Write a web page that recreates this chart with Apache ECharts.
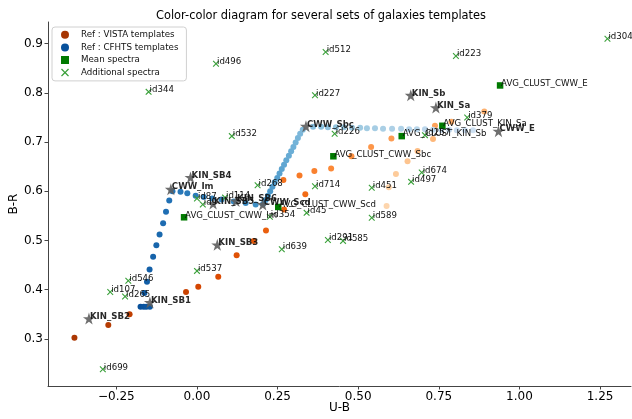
<!DOCTYPE html>
<html><head><meta charset="utf-8">
<script src="https://cdn.jsdelivr.net/npm/echarts@6/dist/echarts.min.js"></script>
<style>html,body{margin:0;padding:0;background:#fff}#c{width:632px;height:419px}</style>
</head><body><div id="c"></div>
<script>
// ---- data ----
const vistaU  = [-0.380,-0.275,-0.209,-0.034,0.004,0.066,0.123,0.176,0.214,0.270,0.336,0.268,0.318,0.364,0.416,0.479,0.540,0.603,0.738,0.789,0.891,0.732,0.684,0.653,0.617,0.595,0.588];
const vistaBR = [0.302,0.328,0.350,0.395,0.406,0.426,0.470,0.499,0.520,0.563,0.594,0.623,0.632,0.641,0.646,0.671,0.690,0.707,0.733,0.741,0.762,0.706,0.682,0.661,0.635,0.608,0.570];

const cfhtsU  = [-0.175,-0.165,-0.157,-0.146,-0.163,-0.155,-0.147,-0.136,-0.126,-0.116,-0.105,-0.096,-0.086,-0.076,-0.051,-0.030,-0.004,0.021,0.047,0.076,0.114,0.151,0.182,0.205,
                 0.213,0.220,0.227,0.234,0.241,0.249,0.256,0.263,0.270,0.277,0.285,0.292,0.299,0.306,0.313,0.320,0.328,
                 0.360,0.385,0.406,0.431,0.456,0.481,0.506,0.527,0.552,0.577,0.605,0.633,0.658,0.682,0.707,0.732,0.757,0.782,0.806,0.831,0.856];
const cfhtsBR = [0.365,0.365,0.365,0.365,0.393,0.416,0.441,0.467,0.490,0.512,0.535,0.558,0.581,0.600,0.599,0.596,0.591,0.588,0.585,0.583,0.579,0.576,0.573,0.574,
                 0.582,0.591,0.600,0.609,0.618,0.627,0.636,0.645,0.654,0.663,0.672,0.681,0.690,0.699,0.708,0.717,0.725,
                 0.731,0.731,0.730,0.730,0.730,0.729,0.729,0.728,0.728,0.727,0.727,0.727,0.726,0.726,0.726,0.725,0.725,0.725,0.724,0.724,0.724];

const meanNames = ["AVG_CLUST_CWW_Im","AVG_CLUST_CWW_Scd","AVG_CLUST_CWW_Sbc","AVG_CLUST_KIN_Sb","AVG_CLUST_KIN_Sa","AVG_CLUST_CWW_E"];
const meanU  = [-0.040,0.252,0.423,0.635,0.761,0.940];
const meanBR = [0.547,0.568,0.671,0.712,0.733,0.815];

const addNames = ["id699","id107","id265","id546","id537","id344","id496","id512","id227","id532","id226","id223","id379","id257","id674","id497","id451","id589","id268","id714","id45","id354","id639","id291","id585","id87","id9","id114","id304"];
const addU  = [-0.292,-0.269,-0.223,-0.213,0.000,-0.150,0.059,0.399,0.366,0.108,0.427,0.803,0.838,0.707,0.697,0.664,0.542,0.542,0.188,0.366,0.340,0.226,0.263,0.406,0.453,0.000,0.018,0.087,1.273];
const addBR = [0.238,0.395,0.386,0.418,0.438,0.802,0.859,0.883,0.795,0.712,0.717,0.875,0.750,0.714,0.638,0.619,0.607,0.546,0.612,0.610,0.556,0.548,0.482,0.501,0.499,0.585,0.573,0.587,0.910];

const tmplNames = ["KIN_SB2","KIN_SB1","KIN_SB3","KIN_SB4","CWW_Im","KIN_SB5","KIN_SB6","CWW_Scd","CWW_Sbc","KIN_Sb","KIN_Sa","CWW_E"];
const tmplU  = [-0.335,-0.146,0.063,-0.020,-0.081,0.050,0.121,0.204,0.338,0.663,0.741,0.935];
const tmplBR = [0.341,0.374,0.491,0.628,0.604,0.575,0.580,0.573,0.732,0.795,0.770,0.722];

const xTicks = [-0.25,0.00,0.25,0.50,0.75,1.00,1.25];
const yTicks = [0.3,0.4,0.5,0.6,0.7,0.8,0.9];

// ---- colour maps ----
const ORANGES = ['#fff5eb','#fee6ce','#fdd0a2','#fdae6b','#fd8d3c','#f16913','#d94801','#a63603','#7f2704'];
const BLUES   = ['#f7fbff','#deebf7','#c6dbef','#9ecae1','#6baed6','#4292c6','#2171b5','#08519c','#08306b'];
function hex2rgb(h){return [parseInt(h.slice(1,3),16),parseInt(h.slice(3,5),16),parseInt(h.slice(5,7),16)];}
function cmap(stops,t){
  const p=t*(stops.length-1), i=Math.min(Math.floor(p),stops.length-2), f=p-i;
  const a=hex2rgb(stops[i]), b=hex2rgb(stops[i+1]);
  return 'rgb('+a.map((v,k)=>Math.round(v+(b[k]-v)*f)).join(',')+')';
}
function ramp(stops,n,hi,lo){const out=[];for(let i=0;i<n;i++){out.push(cmap(stops,hi-(hi-lo)*i/(n-1)));}return out;}

const FONT='DejaVu Sans';
const vistaCol = ramp(ORANGES, vistaU.length, 0.86, 0.22);
const cfhtsCol = ramp(BLUES, cfhtsU.length, 0.88, 0.22);

const XPATH='path://M0,1.2 L1.2,0 L5,3.8 L8.8,0 L10,1.2 L6.2,5 L10,8.8 L8.8,10 L5,6.2 L1.2,10 L0,8.8 L3.8,5 Z';
const STAR='path://M50,0 L61.2,34.5 L97.6,34.5 L68.2,55.9 L79.4,90.5 L50,69.1 L20.6,90.5 L31.8,55.9 L2.4,34.5 L38.8,34.5 Z';

const lbl = (bold)=>({show:true,formatter:'{b}',position:['50%','50%'],align:'left',verticalAlign:'bottom',offset:[1,2.5],
  fontFamily:FONT,fontSize:8.6,fontWeight:bold?'bold':'normal',color:'#111'});

const option = {
  animation:false,
  backgroundColor:'#fff',
  title:{text:'Color-color diagram for several sets of galaxies templates',left:316,textAlign:'center',top:6,
    textStyle:{fontFamily:FONT,fontSize:11.4,fontWeight:'normal',color:'#000'}},
  legend:{
    data:['Ref : VISTA templates','Ref : CFHTS templates','Mean spectra','Additional spectra'],
    orient:'vertical',left:52,top:27,padding:[1.5,8,2,9],itemGap:0,itemWidth:8,itemHeight:8,
    borderColor:'#d0d0d0',borderWidth:1,borderRadius:3,backgroundColor:'rgba(255,255,255,0.8)',
    textStyle:{fontFamily:FONT,fontSize:8.7,color:'#111',lineHeight:12.6,padding:[0,0,0,7]}
  },
  grid:{left:48,right:1,top:22,bottom:33,containLabel:false,outerBoundsMode:'none'},
  xAxis:{type:'value',min:-0.462,max:1.346,name:'U-B',nameLocation:'middle',nameGap:16,nameMoveOverlap:false,
    nameTextStyle:{fontFamily:FONT,fontSize:12,color:'#000'},
    axisLine:{show:true,onZero:false,lineStyle:{color:'#444',width:1}},
    axisTick:{show:true,customValues:xTicks,length:3.5,lineStyle:{color:'#444'}},
    axisLabel:{customValues:xTicks,fontFamily:FONT,fontSize:12,color:'#000',margin:5,
      formatter:v=>(v<0?'\u2212':'')+Math.abs(v).toFixed(2)},
    splitLine:{show:false}},
  yAxis:{type:'value',min:0.204,max:0.944,name:'B-R',nameLocation:'middle',nameGap:28,nameMoveOverlap:false,
    nameTextStyle:{fontFamily:FONT,fontSize:12,color:'#000'},
    axisLine:{show:true,onZero:false,lineStyle:{color:'#444',width:1}},
    axisTick:{show:true,customValues:yTicks,length:3.5,lineStyle:{color:'#444'}},
    axisLabel:{customValues:yTicks,fontFamily:FONT,fontSize:12,color:'#000',margin:5,formatter:v=>v.toFixed(1)},
    splitLine:{show:false}},
  series:[
    {name:'Ref : VISTA templates',type:'scatter',symbol:'circle',symbolSize:6,
      itemStyle:{color:'#a63603',opacity:1},
      data:vistaU.map((u,i)=>({value:[u,vistaBR[i]],itemStyle:{color:vistaCol[i]}}))},
    {name:'Ref : CFHTS templates',type:'scatter',symbol:'circle',symbolSize:6,
      itemStyle:{color:'#08519c',opacity:1},
      data:cfhtsU.map((u,i)=>({value:[u,cfhtsBR[i]],itemStyle:{color:cfhtsCol[i]}}))},
    {name:'Mean spectra',type:'scatter',symbol:'rect',symbolSize:6.5,
      itemStyle:{color:'#007a00',opacity:1},label:lbl(false),
      data:meanU.map((u,i)=>({name:meanNames[i],value:[u,meanBR[i]]}))},
    {name:'Additional spectra',type:'scatter',symbol:XPATH,symbolSize:6.5,
      itemStyle:{color:'#3aa03a',opacity:1},label:lbl(false),
      data:addU.map((u,i)=>({name:addNames[i],value:[u,addBR[i]]}))},
    {name:'Templates',type:'scatter',symbol:STAR,symbolSize:12,
      itemStyle:{color:'#5e5e5e',opacity:0.9},label:lbl(true),
      data:tmplU.map((u,i)=>({name:tmplNames[i],value:[u,tmplBR[i]]}))}
  ]
};
const chart = echarts.init(document.getElementById('c'),null,{renderer:'canvas'});
chart.setOption(option);
</script></body></html>
